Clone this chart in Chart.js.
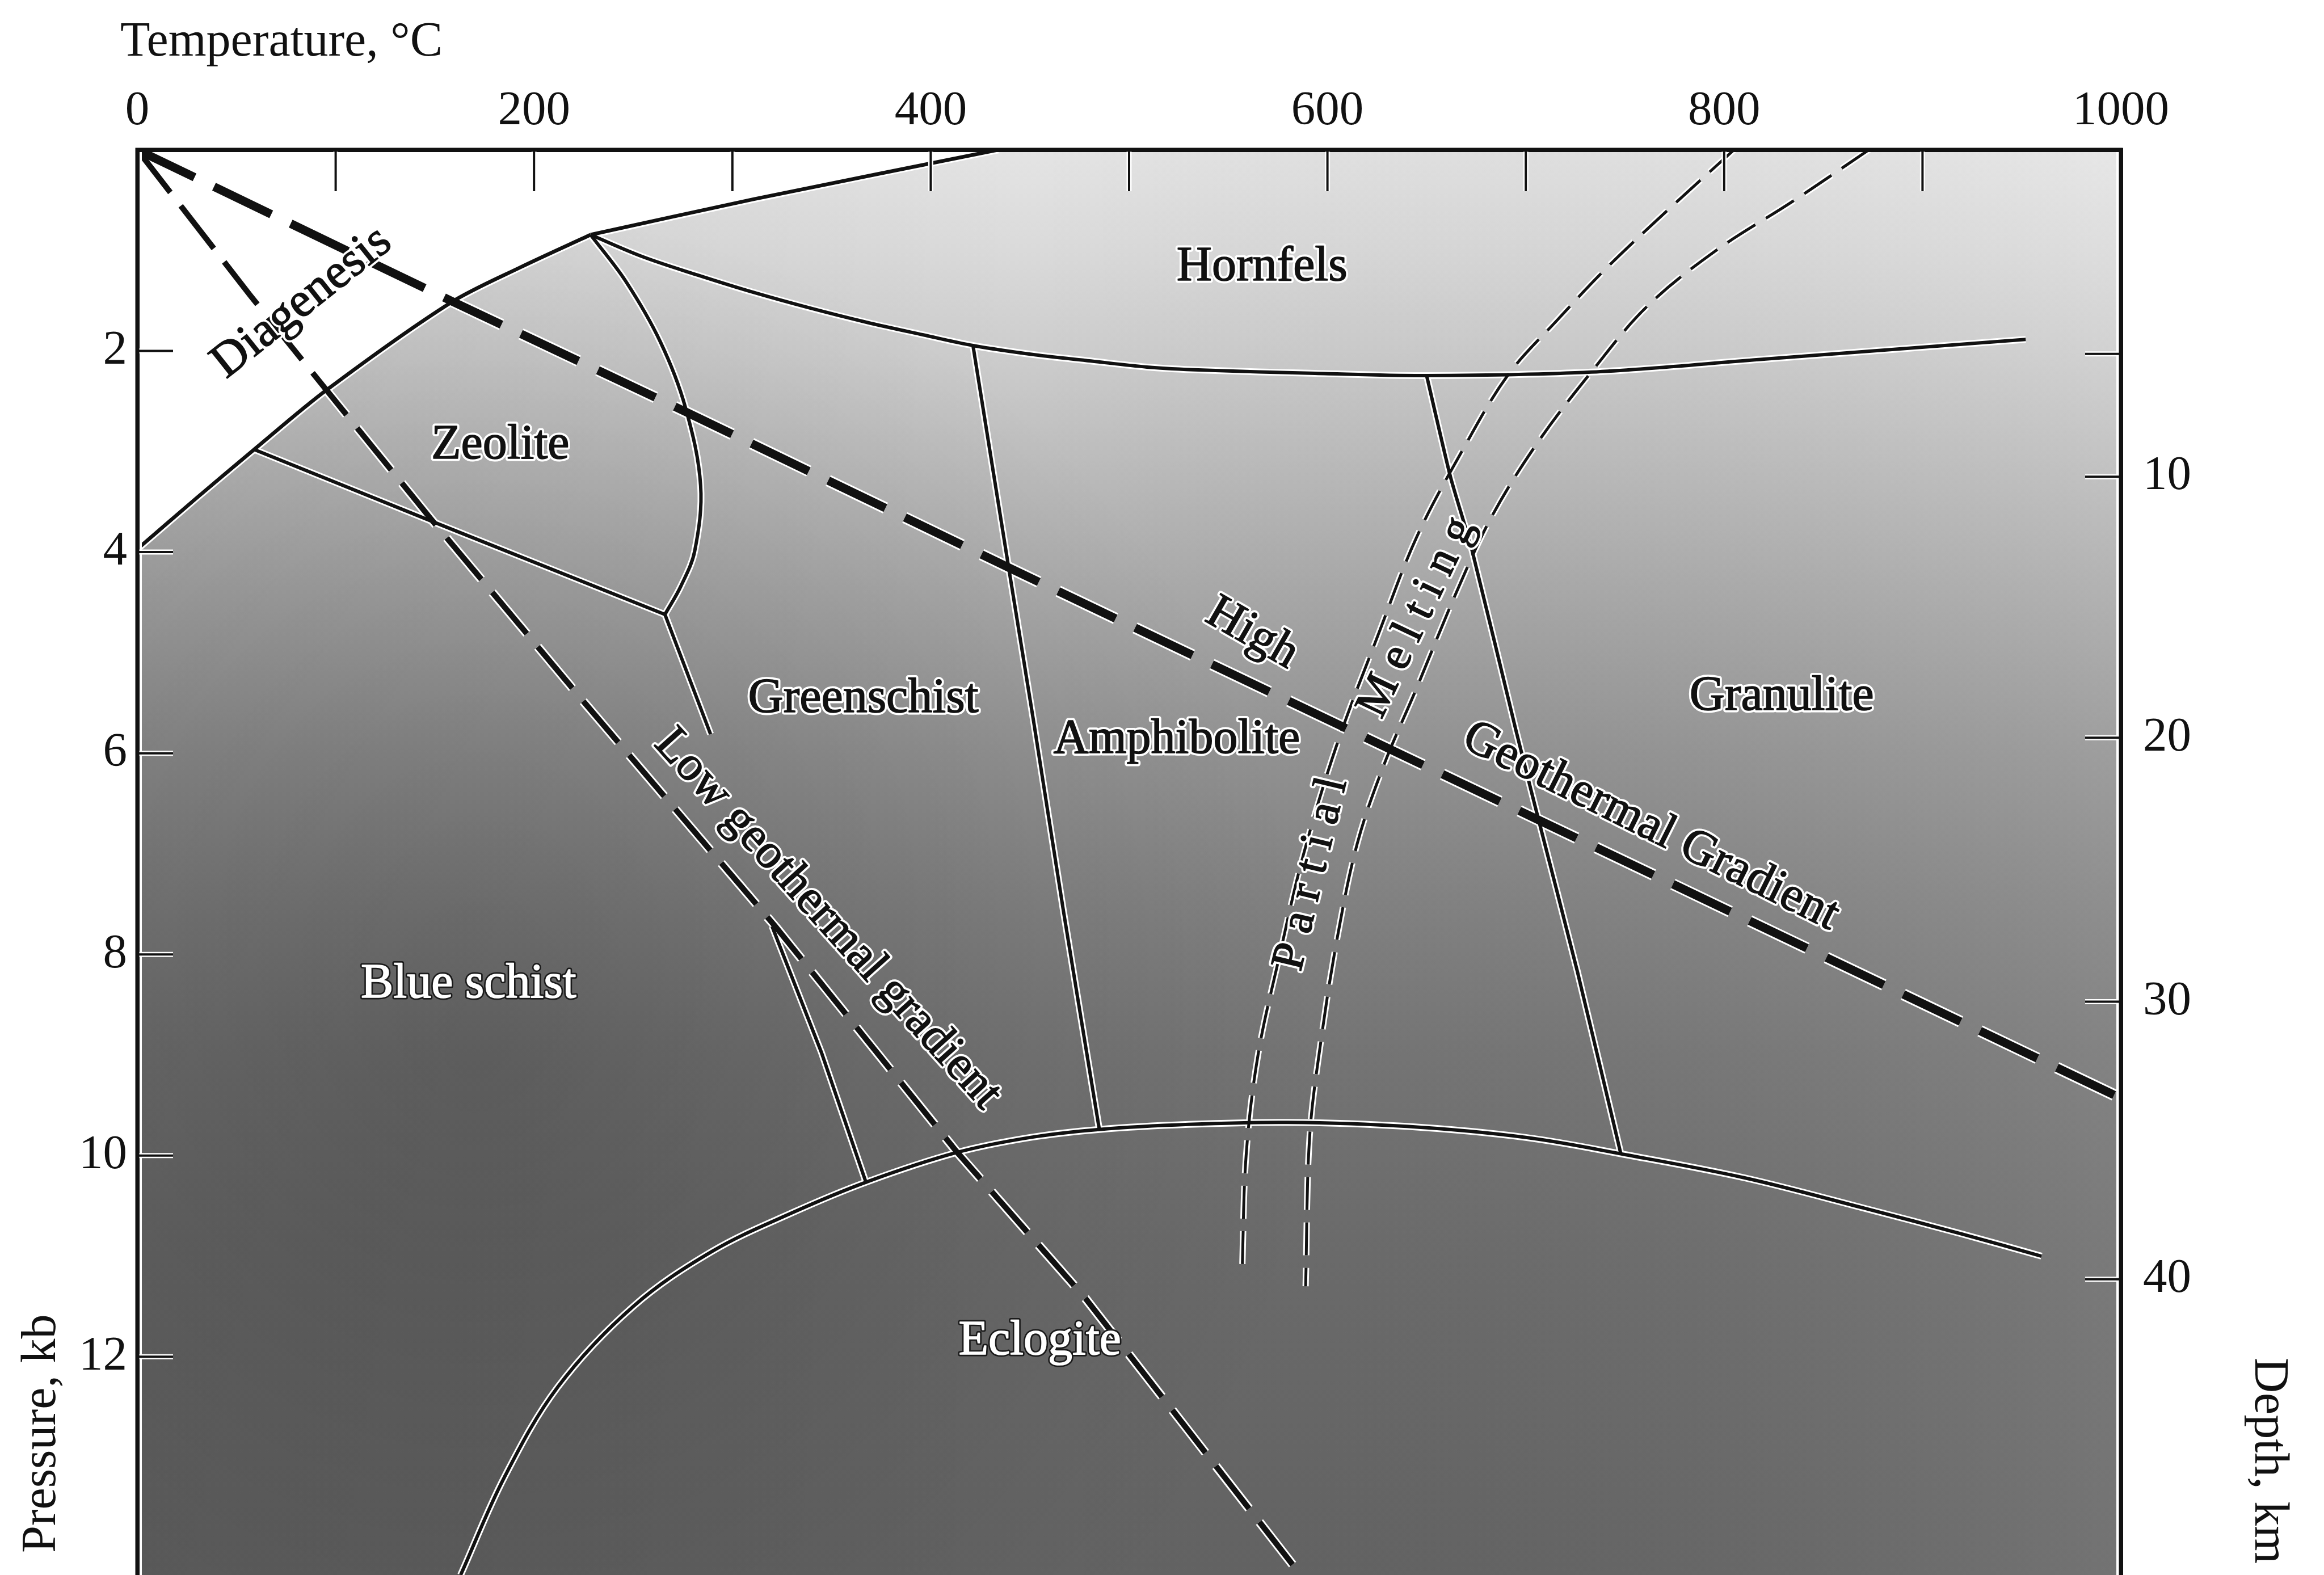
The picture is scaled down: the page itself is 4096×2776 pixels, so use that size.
<!DOCTYPE html>
<html><head><meta charset="utf-8">
<script src="https://cdn.jsdelivr.net/npm/chart.js@4.4.1/dist/chart.umd.min.js"></script>
<style>html,body{margin:0;padding:0;background:#fff;overflow:hidden}canvas{display:block}</style>
</head><body>
<canvas id="c" width="4096" height="2776"></canvas>
<script>
// ---------------- DATA (temperature in °C, pressure in kb) ----------------
const tempTicks = [0,100,200,300,400,500,600,700,800,900,1000];
const tempTickLabels = ['0','','200','','400','','600','','800','','1000'];
const pressureTicks = [2,4,6,8,10,12];
const pressureTickLabels = ['2','4','6','8','10','12'];
const depthTickPressures = [2.03,3.25,5.845,8.47,11.23];
const depthTickLabels = ['','10','20','30','40'];

// facies boundaries [T, P]
const diagenesisBoundary = [[0,3.97],[30,3.46],[58.9,2.98],[95.3,2.39],[158,1.52],[193,1.17],[228.5,0.845]];
const hornfelsTop = [[228.5,0.845],[311,0.49],[434,0]];
const zeoliteLower = [[58.9,2.98],[148,3.69],[266,4.62]];
const zeoliteRight = [[228.5,0.845],[246,1.30],[263.7,1.91],[276.3,2.56],[284,3.34],[281,3.99],[274,4.34],[266,4.62]];
const greenschistLeft = [[266,4.62],[289,5.81]];
const hornfelsBase = [[228.5,0.845],[254.6,1.062],[283,1.249],[311,1.42],[339.4,1.575],[367.6,1.715],[395.9,1.839],[421.3,1.946],[452.4,2.038],[480.7,2.10],[509,2.16],[537,2.19],[593.7,2.222],[650,2.245],[733,2.21],[821,2.08],[952,1.885]];
const greenAmphBoundary = [[421.3,1.946],[439.5,4.18],[452,5.7],[467,7.58],[485,9.74]];
const amphGranBoundary = [[650,2.245],[662,3.25],[673,3.99],[695,5.77],[705,6.55],[726,8.17],[748,9.99]];
const blueGreenBoundary = [[320,7.72],[345,8.98],[367.6,10.28]];
const eclogiteBoundary = [[163,14.17],[185,13.2],[212,12.3],[250,11.5],[290,10.95],[330,10.57],[368,10.26],[413,9.97],[450,9.82],[485,9.74],[530,9.69],[580,9.67],[640,9.71],[700,9.82],[750,9.99],[810,10.22],[870,10.52],[920,10.78],[960,11.0]];
// geothermal gradients
const lowGradient = [[0,0],[57,1.45],[95,2.38],[148,3.67],[226,5.51],[322,7.73],[413,9.96],[478,11.42],[586.5,14.17]];
const highGradient = [[0,0],[158,1.50],[277,2.61],[441,4.17],[705,6.65],[1000,9.43]];
// partial melting curves
const meltingLeft = [[805,0],[771,0.61],[741,1.17],[716,1.69],[691,2.24],[668,2.99],[645,3.85],[626,4.8],[605,5.9],[588,7.0],[576,8.0],[565,9.0],[559,10.0],[557,11.15]];
const meltingRight = [[873,0],[834,0.52],[796,1.0],[761,1.56],[733,2.21],[706,2.91],[683,3.64],[665,4.4],[645,5.35],[628,6.14],[615,6.9],[605,7.83],[597,8.82],[591,9.82],[589,11.3]];

// labels
const fieldNames = ['Hornfels','Zeolite','Greenschist','Amphibolite','Granulite','Blue schist','Eclogite'];
const fieldT = [567,183,366,524,829,167,455];
const fieldP = [1.17,2.94,5.46,5.87,5.44,8.30,11.85];
const lineNames = ['Diagenesis','High','Geothermal Gradient','Low geothermal gradient','Partial','Melting'];
const lineT = [83,562,763,348,592,645];
const lineP = [1.52,4.81,6.73,7.65,7.2,4.65];

// ---------------- STYLE ----------------
const FONT = '"Liberation Serif", "Times New Roman", serif';
const lineAngles = [-38.5,30,26.5,48,-76.5,-64.5];
const lineSpacing = [0,0,0,0,22,20];
const whiteLabels = ['Blue schist','Eclogite'];
const shadeStops = [[0,'#e4e4e4'],[1,'#dadada'],[2,'#cdcdcd'],[3,'#bebebe'],[4.5,'#a8a8a8'],[6,'#939393'],[7.5,'#828282'],[9,'#757575'],[11,'#6b6b6b'],[14.17,'#636363']];

function pts(arr){ return arr.map(([t,p]) => ({x:t, y:p})); }
function lineSets(arr, w, dash, tension) {
  const base = {type:'scatter', showLine:true, data:pts(arr), pointRadius:0, pointHoverRadius:0,
    tension:tension, borderDash:dash, borderCapStyle:'butt', borderJoinStyle:'round', fill:false, xAxisID:'x', yAxisID:'y'};
  return [
    Object.assign({}, base, {borderColor:'#111', borderWidth:w, order:1}),
    Object.assign({}, base, {borderColor:'#ffffff', borderWidth:w+6, order:2})
  ];
}

const datasets = [].concat(
  lineSets(diagenesisBoundary, 6.5, [], 0.3),
  lineSets(hornfelsTop, 6.5, [], 0.2),
  lineSets(zeoliteLower, 6, [], 0),
  lineSets(zeoliteRight, 6, [], 0.35),
  lineSets(greenschistLeft, 6, [], 0),
  lineSets(hornfelsBase, 6, [], 0.35),
  lineSets(greenAmphBoundary, 6, [], 0.2),
  lineSets(amphGranBoundary, 6, [], 0.2),
  lineSets(blueGreenBoundary, 6, [], 0),
  lineSets(eclogiteBoundary, 6, [], 0.35),
  lineSets(meltingLeft, 5, [58,22], 0.35),
  lineSets(meltingRight, 5, [58,22], 0.35),
  lineSets(lowGradient, 10, [95,30], 0),
  lineSets(highGradient, 15, [112,38], 0),
  [{type:'scatter', showLine:true, data:pts(diagenesisBoundary.concat(hornfelsTop.slice(1))), pointRadius:0,
    borderWidth:0, tension:0.2, fill:{value:0}, backgroundColor:'#ffffff', order:3, xAxisID:'x', yAxisID:'y'}]
);

function zeroPad(s){ s.paddingTop=0; s.paddingBottom=0; s.paddingLeft=0; s.paddingRight=0; }

const bgPlugin = {
  id:'bgShade',
  beforeDatasetsDraw(chart){
    const {ctx, chartArea:a, scales:{x,y}} = chart;
    ctx.save();
    const g = ctx.createLinearGradient(0, a.top, 0, a.bottom);
    shadeStops.forEach(([p,c]) => g.addColorStop(Math.max(0,Math.min(1,(y.getPixelForValue(p)-a.top)/(a.bottom-a.top))), c));
    ctx.fillStyle = g; ctx.fillRect(a.left, a.top, a.width, a.height);
    const h = ctx.createLinearGradient(a.left, 0, a.right, 0);
    h.addColorStop(0,'rgba(0,0,0,0.06)'); h.addColorStop(0.45,'rgba(0,0,0,0)'); h.addColorStop(1,'rgba(255,255,255,0.10)');
    ctx.fillStyle = h; ctx.fillRect(a.left, a.top, a.width, a.height);
    const cx = x.getPixelForValue(170), cy = y.getPixelForValue(9.0);
    const r = ctx.createRadialGradient(cx, cy, 0, cx, cy, 1500);
    r.addColorStop(0,'rgba(0,0,0,0.18)'); r.addColorStop(1,'rgba(0,0,0,0)');
    ctx.fillStyle = r; ctx.fillRect(a.left, a.top, a.width, a.height);
    ctx.restore();
  },
  afterDatasetsDraw(chart){
    const {ctx, chartArea:a, scales:{x,y}} = chart;
    ctx.save();
    ctx.beginPath(); ctx.rect(a.left, a.top, a.width, a.height); ctx.clip();
    ctx.strokeStyle = '#fff'; ctx.lineWidth = 16;
    ctx.beginPath(); ctx.moveTo(a.left, a.top); ctx.lineTo(a.left, a.bottom); ctx.moveTo(a.right, a.top); ctx.lineTo(a.right, a.bottom); ctx.stroke();
    ctx.restore();
    const draw = (text, px, py, deg, size, spacing) => {
      const white = whiteLabels.includes(text);
      ctx.save();
      ctx.translate(px, py); ctx.rotate(deg*Math.PI/180);
      ctx.font = size + 'px ' + FONT;
      if ('letterSpacing' in ctx) ctx.letterSpacing = (spacing||0) + 'px';
      ctx.textAlign = 'center'; ctx.textBaseline = 'middle'; ctx.lineJoin = 'round';
      ctx.strokeStyle = white ? '#1a1a1a' : '#ffffff'; ctx.lineWidth = white ? 7 : 9;
      ctx.strokeText(text, (spacing||0)/2, 0);
      ctx.fillStyle = white ? '#ffffff' : '#111';
      ctx.fillText(text, (spacing||0)/2, 0);
      ctx.strokeStyle = ctx.fillStyle; ctx.lineWidth = 1.6; ctx.strokeText(text, (spacing||0)/2, 0);
      ctx.restore();
    };
    fieldNames.forEach((n,i) => draw(n, x.getPixelForValue(fieldT[i]), y.getPixelForValue(fieldP[i]), 0, 86, 0));
    lineNames.forEach((n,i) => draw(n, x.getPixelForValue(lineT[i]), y.getPixelForValue(lineP[i]), lineAngles[i], i>=4 ? 82 : 86, lineSpacing[i]));
  },
  afterDraw(chart){
    const {ctx, chartArea:a, scales} = chart;
    ctx.save();
    const tick = (x1,y1,x2,y2) => {
      ctx.strokeStyle='#fff'; ctx.lineWidth=9; ctx.beginPath(); ctx.moveTo(x1,y1); ctx.lineTo(x2,y2); ctx.stroke();
      ctx.strokeStyle='#111'; ctx.lineWidth=4; ctx.beginPath(); ctx.moveTo(x1,y1); ctx.lineTo(x2,y2); ctx.stroke();
    };
    scales.x.ticks.forEach(t => { if (t.value > 0 && t.value < 1000) { const px = scales.x.getPixelForValue(t.value); tick(px, a.top+3, px, a.top+73); } });
    scales.y.ticks.forEach(t => { const py = scales.y.getPixelForValue(t.value); tick(a.left+3, py, a.left+63, py); });
    scales.y2.ticks.forEach(t => { const py = scales.y2.getPixelForValue(t.value); tick(a.right-63, py, a.right-3, py); });
    // frame lines over ticks
    ctx.strokeStyle='#111'; ctx.lineWidth=7; ctx.lineCap='square';
    ctx.beginPath(); ctx.moveTo(a.left, a.bottom); ctx.lineTo(a.left, a.top); ctx.lineTo(a.right, a.top); ctx.lineTo(a.right, a.bottom); ctx.stroke();
    // axis titles
    ctx.fillStyle='#111'; ctx.font = '86px ' + FONT; ctx.textBaseline='alphabetic'; ctx.textAlign='left';
    ctx.fillText('Temperature, °C', 212, 98);
    ctx.save(); ctx.translate(97, 2737); ctx.rotate(-Math.PI/2); ctx.fillText('Pressure, kb', 0, 0); ctx.restore();
    ctx.save(); ctx.translate(3975, 2393); ctx.rotate(Math.PI/2); ctx.fillText('Depth, km', 0, 0); ctx.restore();
    ctx.restore();
  }
};

const tickFont = {family:FONT, size:85};
new Chart(document.getElementById('c'), {
  type:'scatter',
  data:{datasets},
  options:{
    responsive:false, animation:false, devicePixelRatio:1, events:[],
    layout:{padding:0},
    plugins:{legend:{display:false}, tooltip:{enabled:false}, title:{display:false}},
    scales:{
      x:{type:'linear', position:'top', min:0, max:1000,
        afterBuildTicks:s => { s.ticks = tempTicks.map(v => ({value:v})); },
        afterFit:s => { s.height = 264; zeroPad(s); },
        grid:{display:false, drawTicks:false}, border:{display:true, color:'#111', width:7, z:1},
        ticks:{autoSkip:false, maxRotation:0, padding:16, color:'#111', font:tickFont, z:1,
          callback:(v,i) => tempTickLabels[i]}},
      y:{type:'linear', position:'left', reverse:true, min:0, max:14.17,
        afterBuildTicks:s => { s.ticks = pressureTicks.map(v => ({value:v})); },
        afterFit:s => { s.width = 242; zeroPad(s); },
        grid:{display:false, drawTicks:false}, border:{display:true, color:'#111', width:7, z:1},
        ticks:{autoSkip:false, padding:18, color:'#111', font:tickFont, z:1,
          callback:(v,i) => pressureTickLabels[i]}},
      y2:{type:'linear', position:'right', reverse:true, min:0, max:14.17,
        afterBuildTicks:s => { s.ticks = depthTickPressures.map(v => ({value:v})); },
        afterFit:s => { s.width = 358; zeroPad(s); },
        grid:{display:false, drawTicks:false}, border:{display:true, color:'#111', width:7, z:1},
        ticks:{autoSkip:false, padding:39, color:'#111', font:tickFont, z:1,
          callback:(v,i) => depthTickLabels[i]}}
    }
  },
  plugins:[bgPlugin]
});
</script>
</body></html>
